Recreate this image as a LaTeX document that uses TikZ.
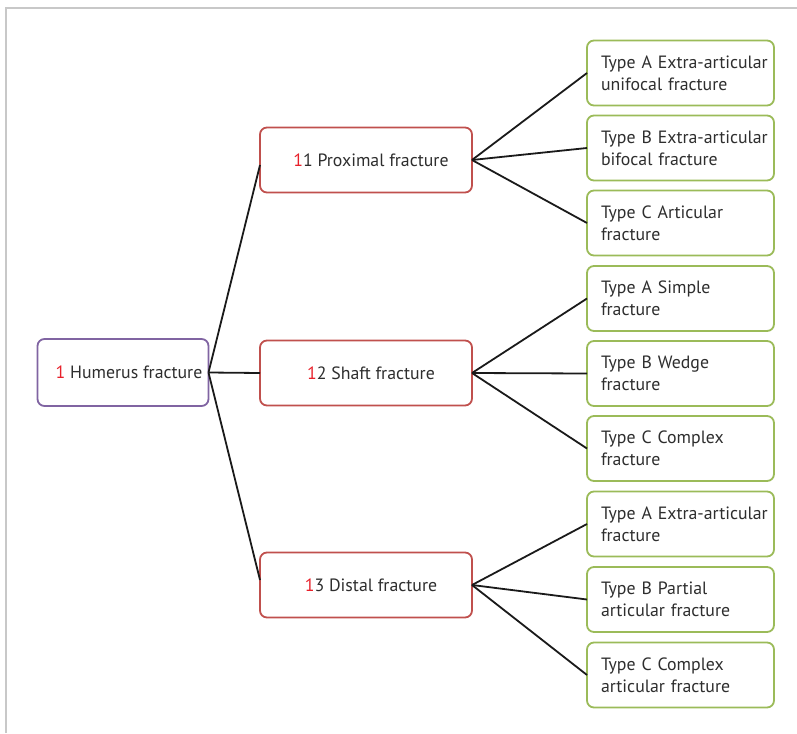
\documentclass[tikz,border=0pt]{standalone}
\usepackage{fontspec}
\setmainfont{PT Sans}
\definecolor{purplebox}{HTML}{8064A2}
\definecolor{redbox}{HTML}{C0504D}
\definecolor{greenbox}{HTML}{9BBB59}
\definecolor{numred}{HTML}{E8202A}
\definecolor{txt}{HTML}{2E2E2E}
\definecolor{frame}{HTML}{C8C8C8}
\definecolor{conn}{HTML}{1A1A1A}
\newcommand{\rn}[1]{\textcolor{numred}{#1}}
\begin{document}
\begin{tikzpicture}[x=1pt,y=-1pt,
  font=\fontsize{17.8}{22}\selectfont, text=txt,
  basebox/.style={draw, rounded corners=7pt, line width=1.8pt, fill=white, outer sep=0pt},
  rootbox/.style={basebox, draw=purplebox, minimum width=171pt, minimum height=67pt, inner xsep=0pt},
  midbox/.style={basebox, draw=redbox, minimum width=212pt, minimum height=65pt},
  leafbox/.style={basebox, draw=greenbox, minimum width=187pt, minimum height=65pt,
     text width=159pt, align=left, inner xsep=14pt},
  link/.style={draw=conn, line width=1.8pt}]
\useasboundingbox (0,0) rectangle (797,733);
\draw[frame, line width=1.3pt] (6,733) -- (6,8) -- (797,8);

\node[rootbox] (hum) at (123,372.5) {\hspace*{12pt}\rn{1} Humerus fracture};
\node[midbox] (prox) at (366,160) {\hspace*{10pt}\rn{1}1 Proximal fracture};
\node[midbox] (shaft) at (366,373) {\hspace*{10pt}\rn{1}2 Shaft fracture};
\node[midbox] (dist) at (366,585) {\hspace*{10pt}\rn{1}3 Distal fracture};

\node[leafbox] (pa) at (680.5,73) {\mbox{Type A Extra-articular}\\unifocal fracture};
\node[leafbox] (pb) at (680.5,148) {\mbox{Type B Extra-articular}\\bifocal fracture};
\node[leafbox] (pc) at (680.5,223) {Type C Articular\\fracture};
\node[leafbox] (sa) at (680.5,298.5) {Type A Simple\\fracture};
\node[leafbox] (sb) at (680.5,373.5) {Type B Wedge\\fracture};
\node[leafbox] (sc) at (680.5,448.5) {Type C Complex\\fracture};
\node[leafbox] (da) at (680.5,524) {\mbox{Type A Extra-articular}\\fracture};
\node[leafbox] (db) at (680.5,599.5) {Type B Partial\\articular fracture};
\node[leafbox] (dc) at (680.5,675) {Type C Complex\\articular fracture};

\draw[link] (hum.east) -- ([yshift=-5pt]prox.west);
\draw[link] (hum.east) -- (shaft.west);
\draw[link] (hum.east) -- ([yshift=5pt]dist.west);
\foreach \m/\a/\b/\c in {prox/pa/pb/pc, shaft/sa/sb/sc, dist/da/db/dc}{
  \draw[link] (\m.east) -- (\a.west);
  \draw[link] (\m.east) -- (\b.west);
  \draw[link] (\m.east) -- (\c.west);
}
\end{tikzpicture}
\end{document}
